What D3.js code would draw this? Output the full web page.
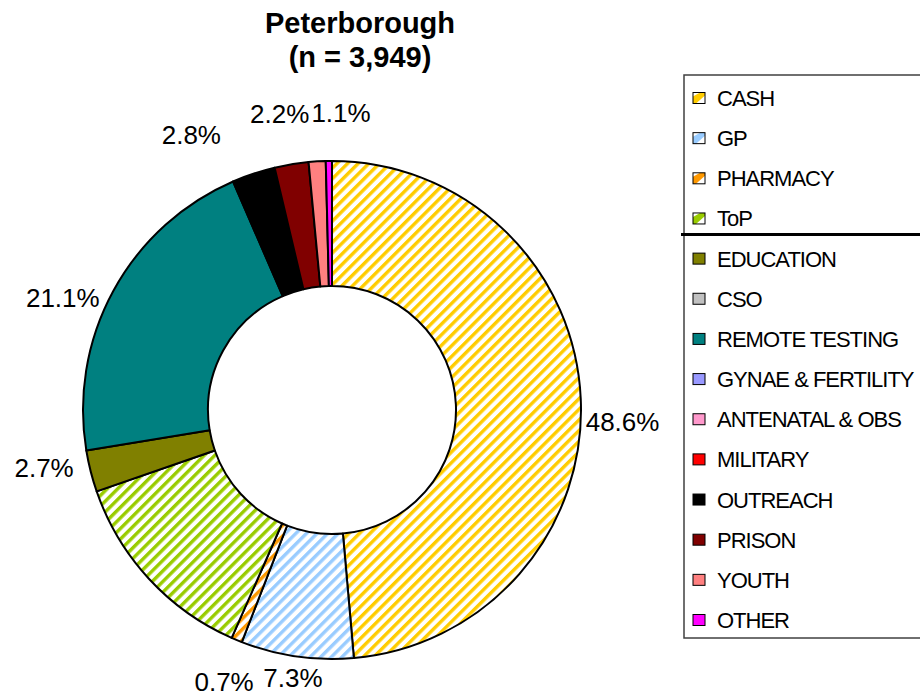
<!DOCTYPE html>
<html>
<head>
<meta charset="utf-8">
<script src="https://cdn.jsdelivr.net/npm/d3@7"></script>
<style>
  body { margin: 0; background: #fff; }
  text { font-family: "Liberation Sans", Arial, sans-serif; fill: #000; }
</style>
</head>
<body>
<div id="wrapper"></div>
<script>
// data
const categories = ["CASH", "GP", "PHARMACY", "ToP", "EDUCATION", "CSO", "REMOTE TESTING",
  "GYNAE & FERTILITY", "ANTENATAL & OBS", "MILITARY", "OUTREACH", "PRISON", "YOUTH", "OTHER"]
const shares = [48.6, 7.3, 0.7, 13.1, 2.7, 0, 21.1, 0, 0, 0, 2.8, 2.2, 1.1, 0.4]
const shownLabels = ["48.6%", "7.3%", "0.7%", "", "2.7%", "", "21.1%", "", "", "", "2.8%", "2.2%", "1.1%", ""]
const colors = ["#ffcc00", "#99ccff", "#ff9900", "#99cc00", "#808000", "#c0c0c0", "#008080",
  "#9999ff", "#ff99cc", "#ff0000", "#000000", "#800000", "#ff8080", "#ff00ff"]
const hatched = ["CASH", "GP", "PHARMACY", "ToP"]
const titleLines = ["Peterborough", "(n = 3,949)"]

// manual label shifts, like the ones made by hand in the original
const labelNudge = {
  "CASH": [-1, 24], "GP": [1, 4], "PHARMACY": [1, 25], "EDUCATION": [-12, -8],
  "REMOTE TESTING": [-13, 16], "OUTREACH": [-51, -22], "PRISON": [-6, -33], "YOUTH": [26, -30]
}

const dimensions = { width: 920, height: 697 }
const cx = 332, cy = 410, outerR = 249, innerR = 124

const svg = d3.select("#wrapper").append("svg")
  .attr("width", dimensions.width)
  .attr("height", dimensions.height)

const colorScale = d3.scaleOrdinal().domain(categories).range(colors)
const fillFor = c => hatched.includes(c) ? `url(#hatch-${categories.indexOf(c)})` : colorScale(c)

// stripe patterns
const defs = svg.append("defs")
hatched.forEach(c => {
  const p = defs.append("pattern")
    .attr("id", `hatch-${categories.indexOf(c)}`)
    .attr("patternUnits", "userSpaceOnUse")
    .attr("width", 7.5).attr("height", 7.5)
    .attr("patternTransform", "rotate(45)")
  p.append("rect").attr("width", 7.5).attr("height", 7.5).attr("fill", "#fff")
  p.append("rect").attr("width", 3.4).attr("height", 7.5).attr("fill", colorScale(c))
})

// title
svg.append("g").selectAll("text")
  .data(titleLines)
  .join("text")
    .attr("x", 360)
    .attr("y", (d, i) => 33 + i * 34)
    .attr("text-anchor", "middle")
    .style("font-size", "29px")
    .style("font-weight", "bold")
    .text(d => d)

// donut
const dataset = categories.map((c, i) => ({ name: c, value: shares[i], label: shownLabels[i] }))
const pie = d3.pie().sort(null).value(d => d.value)
const arcs = pie(dataset).filter(d => d.data.value > 0)
const arc = d3.arc().innerRadius(innerR).outerRadius(outerR)

const bounds = svg.append("g").attr("transform", `translate(${cx},${cy})`)

bounds.selectAll("path")
  .data(arcs)
  .join("path")
    .attr("d", arc)
    .attr("fill", d => fillFor(d.data.name))
    .attr("stroke", "#000")
    .attr("stroke-width", 2)
    .attr("stroke-linejoin", "round")

// labels outside the ring
const labelR = outerR + 6
const labelG = bounds.selectAll(".lbl")
  .data(arcs.filter(d => d.data.label))
  .join("text")
    .attr("class", "lbl")
    .attr("text-anchor", "middle")
    .style("font-size", "26px")
    .text(d => d.data.label)

labelG.each(function(d) {
  const a = (d.startAngle + d.endAngle) / 2
  const w = this.getComputedTextLength()
  const h = 24
  const px = Math.sin(a) * labelR + Math.sin(a) * w / 2
  const py = -Math.cos(a) * labelR - Math.cos(a) * h / 2
  const n = labelNudge[d.data.name] || [0, 0]
  d3.select(this)
    .attr("x", px + n[0])
    .attr("y", py + n[1] + 9)
})

// legend
const legend = svg.append("g")
legend.append("rect")
  .attr("x", 684).attr("y", 75)
  .attr("width", 300).attr("height", 563)
  .attr("fill", "#fff")
  .attr("stroke", "#404040")
  .attr("stroke-width", 1.5)

const rowY = d3.scalePoint().domain(categories).range([98, 620])

const rows = legend.selectAll(".row")
  .data(categories)
  .join("g")
    .attr("class", "row")
    .attr("transform", d => `translate(693,${rowY(d)})`)

rows.append("rect")
  .attr("x", 0).attr("y", -5.5)
  .attr("width", 12).attr("height", 11)
  .attr("fill", d => hatched.includes(d) ? "#fff" : colorScale(d))

rows.filter(d => hatched.includes(d))
  .append("path")
    .attr("d", "M0,-1.5 L0,5.5 L3,5.5 L12,-2.5 L12,-5.5 L7,-5.5 Z")
    .attr("fill", d => colorScale(d))

rows.append("rect")
  .attr("x", 0).attr("y", -5.5)
  .attr("width", 12).attr("height", 11)
  .attr("fill", "none")
  .attr("stroke", "#000")
  .attr("stroke-width", 1)

rows.append("text")
  .attr("x", 24)
  .attr("y", 8)
  .style("font-size", "22px")
  .style("letter-spacing", "-1px")
  .text(d => d)

// thick separator under the striped group
legend.append("line")
  .attr("x1", 681).attr("x2", 920)
  .attr("y1", (rowY("ToP") + rowY("EDUCATION")) / 2 - 4)
  .attr("y2", (rowY("ToP") + rowY("EDUCATION")) / 2 - 4)
  .attr("stroke", "#000")
  .attr("stroke-width", 3)
</script>
</body>
</html>
